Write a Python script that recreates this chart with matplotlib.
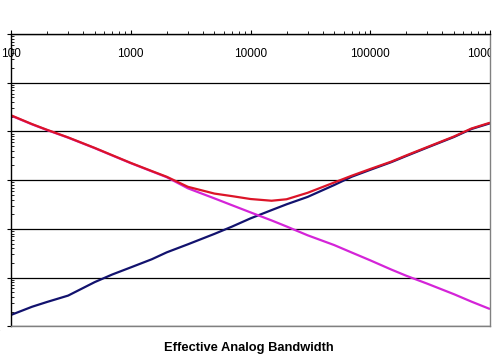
import matplotlib
matplotlib.use("Agg")
import matplotlib.pyplot as plt
from matplotlib.ticker import LogLocator, FixedLocator, NullFormatter
from matplotlib.transforms import Bbox, TransformedBbox

freq = [100, 150, 200, 300, 500, 700, 1000, 1500, 2000, 3000, 5000, 7000,
        10000, 15000, 20000, 30000, 50000, 70000, 100000, 150000, 200000,
        300000, 500000, 700000, 1000000]

blue = [1.71, 2.52, 3.16, 4.27, 8.07, 11.56, 16.18, 23.8, 33.0, 48.2, 78.9,
        111.2, 164.1, 242.7, 319, 453, 794, 1175, 1629, 2344, 3133, 4677,
        7691, 11220, 14690]

magenta = [21130, 13960, 10670, 7447, 4539, 3214, 2234, 1514, 1148, 680, 422,
           306, 218, 149, 112, 73.8, 46.5, 32.7, 22.6, 14.6, 10.9, 7.48,
           4.56, 3.21, 2.26]

red = [21430, 14130, 10790, 7534, 4592, 3251, 2259, 1535, 1172, 730, 530,
       470, 410, 378, 405, 550, 895, 1233, 1694, 2404, 3221, 4786, 7870,
       11480, 15100]

x_ticks = [100, 1000, 10000, 100000, 1000000]
x_tick_labels = ["100", "1000", "10000", "100000", "1000000"]
y_ticks = [1, 10, 100, 1000, 10000, 100000, 1000000]
y_tick_labels = ["1", "10", "100", "1000", "10000", "100000", "1000000"]
x_label = "Effective Analog Bandwidth"

plt.rcParams['font.family'] = ['Liberation Sans', 'DejaVu Sans']

fig = plt.figure(figsize=(4.96, 3.55), dpi=100)
ax = fig.add_axes([11/496, 1 - 326.3/355, (490 - 11)/496, (326.3 - 34)/355])

ax.plot(freq, blue, color='#12126e', lw=1.6, solid_capstyle='butt')
ax.plot(freq, magenta, color='#d424d8', lw=1.6, solid_capstyle='butt')
ax.plot(freq, red, color='#dc1428', lw=1.6, solid_capstyle='butt')

ax.set_xscale('log')
ax.set_yscale('log')
ax.set_xlim(100, 1000000)
ax.set_ylim(1, 1000000)

ax.xaxis.set_major_locator(FixedLocator(x_ticks))
ax.set_xticklabels(x_tick_labels)
ax.xaxis.set_minor_locator(LogLocator(base=10, subs=range(2, 10)))
ax.xaxis.set_minor_formatter(NullFormatter())
ax.xaxis.tick_top()
ax.tick_params(axis='x', which='major', direction='out', length=3, width=0.8,
               pad=-22, labelsize=8.5, colors='black')
ax.tick_params(axis='x', which='minor', direction='out', length=2, width=0.6)

ax.yaxis.set_major_locator(FixedLocator(y_ticks))
ax.set_yticklabels(y_tick_labels)
ax.yaxis.set_minor_locator(LogLocator(base=10, subs=range(2, 10)))
ax.yaxis.set_minor_formatter(NullFormatter())
ax.tick_params(axis='y', which='major', direction='out', length=3, width=0.8,
               pad=5.5, labelsize=8.5)
ax.tick_params(axis='y', which='minor', direction='in', length=2, width=0.6)

ax.grid(True, axis='y', which='major', color='black', lw=0.9)
ax.set_axisbelow(True)

for s in ['top', 'left']:
    ax.spines[s].set_color('black')
    ax.spines[s].set_linewidth(1.0)
for s in ['right', 'bottom']:
    ax.spines[s].set_color('#808080')
    ax.spines[s].set_linewidth(1.0)

# clip the last x tick label at the plot-area edge, as in the reference
clip = TransformedBbox(Bbox([[0, 0], [491/496, 1]]), fig.transFigure)
last = ax.xaxis.get_major_ticks()[-1]
last.label2.set_clip_box(clip)
last.label2.set_clip_on(True)

fig.text(249/496, 1 - 348/355, x_label, ha='center', va='center',
         fontsize=9.3, fontweight='bold')

fig.savefig('out.png', dpi=100, facecolor='white')
